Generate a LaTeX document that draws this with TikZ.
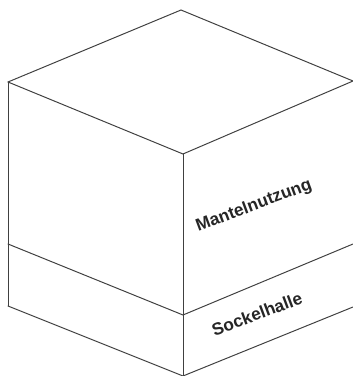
\documentclass[tikz,border=0pt]{standalone}
\usepackage{fontspec}
\setmainfont{Liberation Sans}
\usepackage{tikz}
\usepackage{tkz-euclide}
\usepackage{xcolor}
\definecolor{edgegray}{gray}{0.25}
\tikzset{facelabel/.style={font=\bfseries\fontsize{12.3}{14}\selectfont, text=black!85, inner sep=0pt, rotate=20.5}}

\begin{document}
\begin{tikzpicture}[x=0.025cm, y=0.025cm]
            \useasboundingbox (0,0) rectangle (353,376);
            \fill[white] (0,0) rectangle (353,376);
            \tkzDefPoints{181/366/T, 8/294/L, 183/222/C, 353/295/R, 8/132/M, 183/61/N, 353/132/S, 8/70/B, 183/0/F, 353/69/Q}
            \tkzDrawSegments[edgegray, line width=0.7pt](T,L T,R L,C R,C)
            \tkzDrawSegments[edgegray, line width=0.7pt](L,B C,F)
            \tkzDrawSegments[edgegray, line width=0.7pt](M,N N,S B,F F,Q)
            \node[facelabel] (mantel) at (254,170) {Mantelnutzung};
            \node[facelabel] (sockel) at (257,62) {Sockelhalle};
        \end{tikzpicture}
\end{document}
